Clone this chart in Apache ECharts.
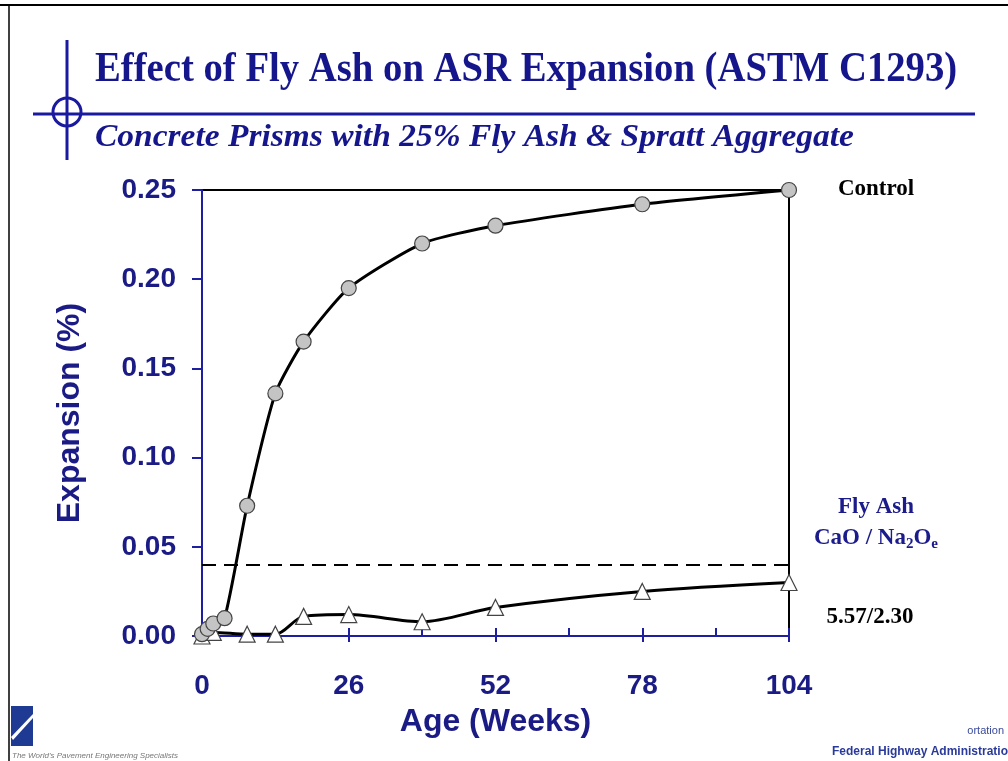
<!DOCTYPE html>
<html>
<head>
<meta charset="utf-8">
<script src="https://cdn.jsdelivr.net/npm/echarts@6/dist/echarts.min.js"></script>
<style>
html,body{margin:0;padding:0;background:#fff;}
#chart{width:1008px;height:761px;}
</style>
</head>
<body>
<div id="chart"></div>
<script>
// ---- data ----
const controlWeeks = [0, 1, 2, 4, 8, 13, 18, 26, 39, 52, 78, 104];
const controlValues = [0.001, 0.004, 0.007, 0.010, 0.073, 0.136, 0.165, 0.195, 0.220, 0.230, 0.242, 0.250];
const flyAshWeeks = [0, 2, 8, 13, 18, 26, 39, 52, 78, 104];
const flyAshValues = [0.000, 0.002, 0.001, 0.001, 0.011, 0.012, 0.008, 0.016, 0.025, 0.030];
const limitValue = 0.04;
const xTicks = [0, 26, 52, 78, 104];
const yTicks = [0.00, 0.05, 0.10, 0.15, 0.20, 0.25];

const navy = '#1b1b86';
const chart = echarts.init(document.getElementById('chart'));

const pair = (xs, ys) => xs.map((x, i) => [x, ys[i]]);

chart.setOption({
  backgroundColor: '#fff',
  animation: false,
  grid: { left: 202, right: 219, top: 190, bottom: 125, show: true, borderColor: '#000', borderWidth: 2, backgroundColor: 'transparent' },
  xAxis: [{
    type: 'value', min: 0, max: 104, interval: 26,
    name: 'Age (Weeks)', nameLocation: 'middle', nameGap: 70,
    nameTextStyle: { fontFamily: 'Liberation Sans', fontWeight: 'bold', fontSize: 32, color: navy },
    axisLine: { show: true, onZero: false, lineStyle: { color: '#1e1ea0', width: 2 } },
    axisTick: { show: true, inside: false, length: 6, lineStyle: { color: '#1e1ea0', width: 2 } },
    axisLabel: { margin: 36, fontFamily: 'Liberation Sans', fontWeight: 'bold', fontSize: 28, color: navy,
      formatter: v => xTicks.includes(v) ? String(v) : '' },
    splitLine: { show: false }
  }, {
    type: 'value', min: 0, max: 104, interval: 26, position: 'bottom', gridIndex: 0,
    axisLine: { show: false },
    axisTick: { show: true, inside: true, length: 8, lineStyle: { color: '#1e1ea0', width: 2 } },
    minorTick: { show: true, splitNumber: 2, length: 8, lineStyle: { color: '#1e1ea0', width: 2 } },
    axisLabel: { show: false },
    splitLine: { show: false }
  }],
  yAxis: {
    type: 'value', min: 0, max: 0.25, interval: 0.05,
    name: 'Expansion (%)', nameLocation: 'middle', nameGap: 116, nameRotate: 90,
    nameTextStyle: { fontFamily: 'Liberation Sans', fontWeight: 'bold', fontSize: 32, color: navy },
    axisLine: { show: true, onZero: false, lineStyle: { color: '#1e1ea0', width: 2 } },
    axisTick: { show: true, inside: false, length: 10, lineStyle: { color: '#1e1ea0', width: 2 } },
    axisLabel: { margin: 26, fontFamily: 'Liberation Sans', fontWeight: 'bold', fontSize: 28, color: navy,
      formatter: v => yTicks.some(t => Math.abs(t - v) < 1e-9) ? v.toFixed(2) : '' },
    splitLine: { show: false }
  },
  series: [{
    name: 'Fly Ash', type: 'line', smooth: 0.3, data: pair(flyAshWeeks, flyAshValues),
    symbol: 'triangle', symbolSize: 16,
    lineStyle: { color: '#000', width: 3 },
    itemStyle: { color: '#fff', borderColor: '#444', borderWidth: 1.2 },
    markLine: {
      silent: true, symbol: 'none', label: { show: false },
      lineStyle: { color: '#000', type: [14, 8], width: 2 },
      data: [{ yAxis: limitValue }]
    },
    z: 2
  }, {
    name: 'Control', type: 'line', smooth: 0.2, data: pair(controlWeeks, controlValues),
    symbol: 'circle', symbolSize: 15,
    lineStyle: { color: '#000', width: 3 },
    itemStyle: { color: '#c4c4c4', borderColor: '#444', borderWidth: 1.2 },
    z: 3
  }],
  graphic: [
    // slide frame
    { type: 'line', shape: { x1: 0, y1: 5, x2: 1008, y2: 5 }, style: { stroke: '#000', lineWidth: 2 } },
    { type: 'line', shape: { x1: 9, y1: 5, x2: 9, y2: 761 }, style: { stroke: '#000', lineWidth: 1.5 } },
    // header decoration
    { type: 'line', shape: { x1: 67, y1: 40, x2: 67, y2: 160 }, style: { stroke: '#1a1aa0', lineWidth: 3 } },
    { type: 'line', shape: { x1: 33, y1: 114, x2: 975, y2: 114 }, style: { stroke: '#1a1aa0', lineWidth: 3 } },
    { type: 'circle', shape: { cx: 67, cy: 112, r: 14 }, style: { fill: 'none', stroke: '#1a1aa0', lineWidth: 3 } },
    // titles
    { type: 'text', x: 95, y: 70, scaleX: 0.9, style: { text: 'Effect of Fly Ash on ASR Expansion (ASTM C1293)',
      fontFamily: 'Liberation Serif', fontWeight: 'bold', fontSize: 43, fill: '#16168c', textVerticalAlign: 'middle' } },
    { type: 'text', x: 95, y: 138, scaleX: 1.08, style: { text: 'Concrete Prisms with 25% Fly Ash & Spratt Aggregate',
      fontFamily: 'Liberation Serif', fontWeight: 'bold', fontStyle: 'italic', fontSize: 31, fill: '#16168c', textVerticalAlign: 'middle' } },
    // right labels
    { type: 'text', x: 876, y: 189, style: { text: 'Control', fontFamily: 'Liberation Serif', fontWeight: 'bold', fontSize: 23, fill: '#000', textAlign: 'center', textVerticalAlign: 'middle' } },
    { type: 'text', x: 876, y: 507, style: { text: 'Fly Ash', fontFamily: 'Liberation Serif', fontWeight: 'bold', fontSize: 23, fill: '#1b1b8c', textAlign: 'center', textVerticalAlign: 'middle' } },
    { type: 'text', x: 876, y: 538, style: {
      text: '{n|CaO / Na}{s|2}{n|O}{s|e}',
      textAlign: 'center', textVerticalAlign: 'middle',
      rich: {
        n: { fontFamily: 'Liberation Serif', fontWeight: 'bold', fontSize: 23, fill: '#1b1b8c', color: '#1b1b8c' },
        s: { fontFamily: 'Liberation Serif', fontWeight: 'bold', fontSize: 15, fill: '#1b1b8c', color: '#1b1b8c', padding: [12, 0, 0, 0] }
      } } },
    { type: 'text', x: 870, y: 617, style: { text: '5.57/2.30', fontFamily: 'Liberation Serif', fontWeight: 'bold', fontSize: 23, fill: '#000', textAlign: 'center', textVerticalAlign: 'middle' } },
    // footer logo
    { type: 'rect', shape: { x: 11, y: 706, width: 22, height: 40 }, style: { fill: '#1f3a93' } },
    { type: 'polygon', shape: { points: [[11, 737], [33, 714], [33, 718], [13, 740]] }, style: { fill: '#fff' } },
    { type: 'text', x: 12, y: 756, style: { text: "The World's Pavement Engineering Specialists", fontFamily: 'Liberation Sans', fontStyle: 'italic', fontSize: 8, fill: '#777', textVerticalAlign: 'middle' } },
    { type: 'text', x: 1004, y: 731, style: { text: 'ortation', fontFamily: 'Liberation Sans', fontSize: 11, fill: '#3a4a9a', textAlign: 'right', textVerticalAlign: 'middle' } },
    { type: 'text', x: 832, y: 752, style: { text: 'Federal Highway Administration', fontFamily: 'Liberation Sans', fontWeight: 'bold', fontSize: 12, fill: '#2a3a9a', textVerticalAlign: 'middle' } }
  ]
});
</script>
</body>
</html>
